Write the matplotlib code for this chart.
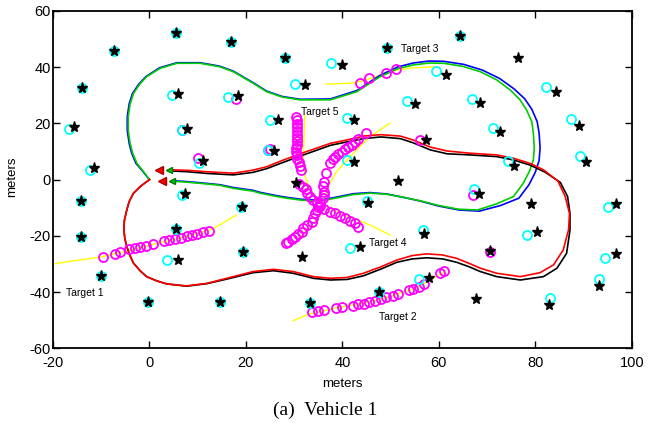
import matplotlib
matplotlib.use("Agg")
import matplotlib.pyplot as plt

# ---------------- data ----------------
# true landmark positions (black stars)
star_x = [5.5, 16.9, -7.3, 28.2, -14.0, -15.6, -11.5, -14.2, -14.2, -10.0, -0.3, 14.6, 19.4, 19.1,
          5.5, 6.0, 7.4, 6.0, 18.3, 7.7, 11.2, 26.6, 25.9, 32.3, 30.3, 39.9, 49.3, 64.4, 76.5, 61.5,
          55.1, 68.6, 84.3, 89.1, 72.7, 90.5, 42.5, 57.4, 42.4, 51.6, 75.5, 68.4, 45.4, 56.9, 43.7,
          70.6, 79.1, 80.3, 96.8, 96.8, 93.3, 82.9, 67.7, 58.0, 47.7, 33.3, 31.7]
star_y = [52.2, 49.0, 45.7, 43.3, 32.7, 18.7, 4.2, -7.6, -20.4, -34.3, -43.5, -43.5, -25.7, -9.8,
          -17.4, -28.6, -5.1, 30.5, 29.9, 18.0, 6.7, 21.2, 10.3, 33.7, -1.1, 40.8, 46.7, 51.2, 43.4, 37.2,
          26.8, 27.2, 31.3, 19.2, 16.9, 6.2, 21.2, 14.1, 6.4, -0.4, 5.0, -5.1, -8.4, -19.3, -23.8,
          -25.3, -8.8, -18.8, -8.6, -26.5, -37.8, -44.6, -42.4, -35.1, -40.1, -43.8, -27.4]

# estimated landmark positions (cyan circles)
est_x = [5.5, 16.9, -7.3, 28.2, -14.0, -16.7, -12.3, -14.2, -14.2, -10.0, -0.3, 14.6, 19.4, 19.0,
         5.45, 3.7, 6.7, 4.6, 16.2, 6.7, 10.3, 25.0, 24.5, 30.2, 37.7, 49.3, 64.4, 59.4, 53.4, 66.9,
         82.2, 87.4, 71.3, 89.2, 40.9, 41.0, 74.4, 67.3, 45.1, 56.7, 41.6, 78.2, 95.0, 94.5, 93.3,
         83.1, 55.8, 47.7, 33.3]
est_y = [52.2, 49.0, 45.7, 43.3, 32.7, 18.0, 3.5, -7.6, -20.4, -34.3, -43.5, -43.5, -25.7, -9.8,
         -17.4, -28.6, -5.4, 30.2, 29.3, 17.7, 6.0, 21.2, 10.6, 34.0, 41.5, 46.7, 51.2, 38.8, 28.1, 28.6,
         33.1, 21.5, 18.5, 8.5, 22.1, 7.0, 6.7, -3.4, -7.5, -17.9, -24.2, -19.8, -9.8, -28.0, -35.3,
         -42.2, -35.4, -40.1, -43.8]

# isolated magenta circles near landmarks
mis_x = [17.9, 6.7, 10.0, 24.5, 24.9, 56.0, 67.0, 70.6]
mis_y = [28.7, 17.7, 7.8, 10.6, 10.9, 14.0, -5.6, -25.7]

# target true trajectories (yellow)
t1_x = [-20.0, -15.8, -10.0, -5.0, 0.0, 5.0, 10.0, 13.5, 16.0, 18.0]
t1_y = [-30.0, -28.9, -27.5, -25.5, -23.3, -21.3, -19.2, -17.2, -14.6, -12.6]
t2_x = [29.8, 33.0, 38.0, 44.0, 50.0, 55.0, 58.2, 61.3]
t2_y = [-50.2, -47.9, -45.9, -44.0, -41.5, -38.6, -35.7, -32.7]
t3_x = [36.6, 41.6, 44.4, 47.8, 51.3, 54.7, 59.6]
t3_y = [34.0, 34.3, 35.1, 37.2, 39.0, 39.8, 40.2]
t5_x = [32.2, 32.1, 31.9, 32.3, 33.3, 35.0, 38.8, 45.7, 49.9]
t5_y = [23.0, 16.5, 7.0, 1.1, -3.7, -8.0, -11.4, -16.1, -19.7]
t4_x = [49.9, 45.7, 41.6, 38.8, 37.0, 36.1, 34.7, 32.6, 29.2]
t4_y = [20.1, 15.3, 8.2, 2.8, -2.5, -9.0, -14.3, -17.9, -23.8]

# target estimates (magenta circles)
m1_x = [-9.56, -7.13, -6.09, -4.16, -2.99, -1.95, -0.71, 0.81, 3.03, 4.13, 5.31, 6.55, 7.74, 8.77,
        9.93, 11.2, 12.4]
m1_y = [-27.6, -26.6, -25.8, -24.8, -24.3, -24.1, -23.5, -22.9, -21.9, -21.6, -21.1, -20.6, -20.0,
        -19.6, -19.2, -18.7, -18.1]
m2_x = [33.7, 35.0, 36.2, 38.7, 39.9, 42.2, 43.3, 44.4, 45.6, 46.8, 48.0, 49.1, 50.4, 51.6, 53.8,
        54.7, 55.8, 57.0, 60.3, 61.1]
m2_y = [-47.2, -46.8, -46.4, -45.7, -45.4, -44.8, -44.3, -44.1, -43.6, -43.2, -42.6, -41.8, -41.4,
        -40.8, -39.3, -38.9, -38.1, -37.1, -33.3, -32.4]
m3_x = [43.7, 45.5, 49.0, 51.1]
m3_y = [34.5, 36.1, 38.1, 39.3]
m5_x = [30.4, 30.5, 30.6, 30.6, 30.7, 30.7, 30.7, 30.6, 30.5, 30.4, 30.4, 30.5, 30.7, 31.0, 31.3,
        31.5, 31.1, 31.9, 32.5, 32.7, 33.2, 33.9, 34.7, 35.4, 36.1, 37.5, 38.5, 39.5, 40.6, 41.6,
        42.6, 43.3]
m5_y = [22.4, 21.2, 19.9, 18.6, 17.3, 16.0, 14.8, 13.6, 12.4, 11.1, 9.9, 8.7, 7.4, 6.2, 4.9,
        3.6, -1.5, -2.5, -3.4, -4.8, -6.0, -7.2, -8.4, -9.4, -10.5, -11.4, -12.0, -12.9, -13.7,
        -14.6, -15.5, -16.7]
m4_x = [44.9, 43.3, 42.6, 42.0, 41.2, 40.6, 39.9, 39.2, 38.5, 38.0, 37.5, 36.6, 36.1, 35.9, 36.1,
        36.1, 35.9, 35.4, 35.0, 34.7, 34.3, 34.0, 33.7, 32.6, 31.9, 31.6, 30.9, 30.2, 29.5, 28.8, 28.3]
m4_y = [16.5, 14.4, 13.5, 12.3, 11.5, 10.8, 10.0, 9.1, 8.2, 7.3, 5.8, 2.5, -0.7, -2.2, -4.3,
        -5.4, -6.6, -8.4, -9.6, -10.8, -12.0, -13.7, -14.9, -16.1, -17.3, -18.5, -19.3, -20.3, -21.2,
        -22.1, -22.6]

# vehicle paths
green_x = [0.0, -1.3, -2.6, -3.5, -4.0, -4.4, -4.4, -4.0, -3.3, -2.0, -0.6, 2.2, 5.7, 10.5, 14.5,
           17.4, 21.5, 24.3, 27.5, 31.2, 37.5, 43.0, 47.8, 51.5, 54.7, 58.0, 61.0, 65.0, 68.6, 72.0,
           74.8, 76.8, 78.2, 79.3, 79.6, 79.8, 79.6, 78.8, 77.5, 75.5, 72.0, 68.0, 64.0, 60.0, 56.1,
           52.7, 49.2, 45.7, 42.3, 38.8, 35.4, 31.5, 28.5, 26.4, 22.9, 21.5, 17.4, 14.6, 10.5, 7.0, 5.0]
green_y = [0.0, 3.0, 5.8, 9.5, 12.9, 17.5, 22.4, 27.0, 30.7, 34.0, 36.6, 39.6, 41.4, 41.4, 40.2,
           38.4, 34.3, 31.3, 29.4, 28.4, 28.4, 31.3, 36.6, 39.5, 40.8, 41.5, 41.4, 40.3, 38.4, 35.5,
           31.9, 28.5, 24.8, 20.5, 16.5, 11.5, 7.0, 3.0, -1.3, -6.0, -8.6, -10.8, -10.5, -9.2, -7.5,
           -6.3, -5.2, -4.8, -5.3, -6.5, -7.6, -7.3, -6.6, -6.0, -4.8, -4.1, -3.1, -2.0, -1.3, -0.8, -0.6]
blue_x = [0.0, -1.4, -2.8, -3.7, -4.2, -4.6, -4.6, -4.2, -3.5, -2.2, -0.7, 2.1, 5.7, 10.5, 14.5,
          17.4, 21.5, 24.3, 27.5, 31.2, 37.5, 43.0, 47.8, 51.5, 54.7, 58.0, 61.0, 65.2, 69.0, 72.6,
          75.6, 77.8, 79.3, 80.4, 80.8, 81.0, 80.8, 80.0, 78.7, 76.6, 72.8, 68.4, 64.2, 60.0, 56.1,
          52.7, 49.2, 45.7, 42.3, 38.8, 35.4, 31.5, 28.5, 26.4, 22.9, 21.5, 17.4, 14.6, 10.5, 7.0, 5.0]
blue_y = [0.0, 3.0, 5.8, 9.5, 12.9, 17.5, 22.4, 27.0, 30.7, 34.0, 36.7, 39.8, 41.6, 41.6, 40.4,
          38.6, 34.5, 31.5, 29.6, 28.6, 28.7, 31.7, 37.1, 40.1, 41.5, 42.2, 42.1, 41.0, 39.0, 36.0,
          32.3, 28.8, 25.0, 20.6, 16.5, 11.4, 6.8, 2.6, -1.8, -6.6, -9.2, -11.2, -10.8, -9.4, -7.6,
          -6.3, -5.1, -4.6, -5.0, -6.2, -7.3, -7.0, -6.3, -5.7, -4.5, -3.8, -2.8, -1.8, -1.1, -0.6, -0.4]
red_x = [0.0, -1.8, -3.3, -4.2, -4.7, -5.2, -5.3, -5.1, -4.7, -4.1, -3.3, -2.0, -0.6, 1.5, 3.6,
         7.7, 11.9, 16.0, 21.5, 25.7, 29.8, 34.0, 37.5, 41.0, 44.4, 48.0, 51.3, 54.5, 57.5, 60.8,
         63.7, 66.3, 68.6, 72.0, 76.9, 81.0, 83.8, 85.8, 86.9, 87.1, 86.2, 84.7, 81.7, 78.9, 75.5,
         72.0, 66.5, 61.7, 58.2, 54.7, 52.0, 48.0, 44.4, 40.9, 37.5, 32.6, 27.8, 24.3, 21.5, 17.4,
         12.0, 8.0, 4.5]
red_y = [0.0, -2.3, -4.8, -7.8, -10.8, -14.5, -17.9, -21.0, -23.8, -26.8, -29.7, -32.3, -34.5,
         -36.0, -37.1, -37.8, -36.9, -35.1, -32.7, -31.9, -32.7, -34.5, -35.1, -34.8, -33.3, -31.0,
         -28.6, -27.0, -26.4, -26.8, -28.0, -29.8, -31.5, -33.3, -34.5, -33.1, -30.3, -25.0, -17.9,
         -12.0, -6.0, -0.5, 3.5, 5.8, 7.6, 8.8, 9.4, 10.2, 11.6, 14.1, 15.5, 16.0, 15.5, 14.1, 12.9,
         10.0, 7.0, 4.6, 3.4, 2.3, 2.8, 3.3, 3.5]
black_x = [0.0, -1.8, -3.3, -4.2, -4.7, -5.2, -5.3, -5.1, -4.7, -4.1, -3.3, -2.0, -0.6, 1.5, 3.6,
           7.7, 11.9, 16.0, 21.5, 25.7, 29.8, 34.0, 37.5, 41.0, 44.4, 48.0, 51.3, 54.5, 57.5, 60.8,
           63.7, 66.3, 68.6, 72.0, 76.9, 81.7, 84.5, 86.5, 87.2, 87.2, 86.7, 85.2, 82.0, 78.9, 75.5,
           72.0, 66.5, 61.7, 58.2, 54.7, 52.0, 48.0, 44.4, 40.9, 37.5, 32.6, 27.8, 24.3, 21.5, 17.4,
           12.0, 8.0, 4.5]
black_y = [0.0, -2.3, -4.8, -7.8, -10.8, -14.5, -17.9, -21.0, -23.8, -26.8, -29.7, -32.3, -34.5,
           -36.0, -37.1, -37.9, -37.0, -35.4, -33.1, -32.4, -33.3, -35.1, -35.7, -35.5, -34.2, -31.8,
           -29.4, -28.2, -27.8, -28.2, -29.4, -31.0, -32.7, -34.5, -35.7, -34.5, -31.5, -26.2, -17.9,
           -12.0, -6.0, -1.0, 2.7, 5.2, 7.0, 8.2, 8.8, 9.2, 10.6, 13.1, 14.6, 15.2, 14.6, 13.4, 12.2,
           9.2, 6.2, 3.9, 2.6, 1.7, 2.2, 2.8, 3.1]

# vehicle pose markers (arrowheads)
arrow_red_x = [2.0, 2.7]
arrow_red_y = [3.3, -0.5]
arrow_green_x = [4.0, 4.7]
arrow_green_y = [3.4, -0.5]

labels = ["Target 1", "Target 2", "Target 3", "Target 4", "Target 5"]
label_x = [-17.2, 47.7, 52.2, 45.6, 31.5]
label_y = [-40.2, -48.7, 46.5, -22.6, 24.0]

xticks = [-20, 0, 20, 40, 60, 80, 100]
yticks = [-60, -40, -20, 0, 20, 40, 60]

# ---------------- plot ----------------
plt.rcParams['font.family'] = ['Liberation Sans', 'DejaVu Sans']
fig = plt.figure(figsize=(6.59, 4.23), dpi=100)
ax = fig.add_axes([0.0804, 0.1766, 0.8782, 0.7974])

ylw = '#ffff00'
for tx, ty in [(t1_x, t1_y), (t2_x, t2_y), (t3_x, t3_y), (t5_x, t5_y), (t4_x, t4_y)]:
    ax.plot(tx, ty, color=ylw, lw=1.0, zorder=2)

ax.plot(blue_x, blue_y, color='#0000ff', lw=1.2, zorder=3)
ax.plot(green_x, green_y, color='#00cc00', lw=1.2, zorder=3)
ax.plot(black_x, black_y, color='black', lw=1.2, zorder=3)
ax.plot(red_x, red_y, color='#ff0000', lw=1.2, zorder=3)

mag = '#ff00ff'
for mx, my in [(m1_x, m1_y), (m2_x, m2_y), (m3_x, m3_y), (m5_x, m5_y), (m4_x, m4_y), (mis_x, mis_y)]:
    ax.plot(mx, my, 'o', ls='none', ms=6.5, mfc='none', mec=mag, mew=1.3, zorder=4)

ax.plot(est_x, est_y, 'o', ls='none', ms=6.5, mfc='none', mec='#00ffff', mew=1.3, zorder=5)
ax.plot(star_x, star_y, '*', ls='none', ms=8, color='black', zorder=6)

ax.plot(arrow_red_x, arrow_red_y, '<', ls='none', ms=6, color='#ff0000', mec='#aa0000', zorder=7)
ax.plot(arrow_green_x, arrow_green_y, '<', ls='none', ms=5, color='#00cc00', mec='#007700', zorder=7)

for s, x, y in zip(labels, label_x, label_y):
    ax.text(x, y, s, fontsize=7.5, ha='left', va='center', zorder=8)

ax.set_xlim(-20, 100)
ax.set_ylim(-60, 60)
ax.set_xticks(xticks)
ax.set_yticks(yticks)
ax.set_xticklabels([str(t) for t in xticks])
ax.set_yticklabels([str(t) for t in yticks])
ax.tick_params(direction='in', length=5, width=1.0, top=True, right=True, labelsize=10.5)
ax.tick_params(axis='y', pad=1.5)
ax.tick_params(axis='x', pad=5.5)
for sp in ax.spines.values():
    sp.set_linewidth(1.3)
ax.set_xlabel('meters', fontsize=9.5)
ax.set_ylabel('meters', fontsize=9.5)
ax.xaxis.set_label_coords(0.5, -0.088)
ax.yaxis.set_label_coords(-0.061, 0.51)

fig.text(0.493, 0.031, '(a)  Vehicle 1', fontsize=14, family='Liberation Serif',
         ha='center', va='center')

fig.savefig('out.png', dpi=100)
